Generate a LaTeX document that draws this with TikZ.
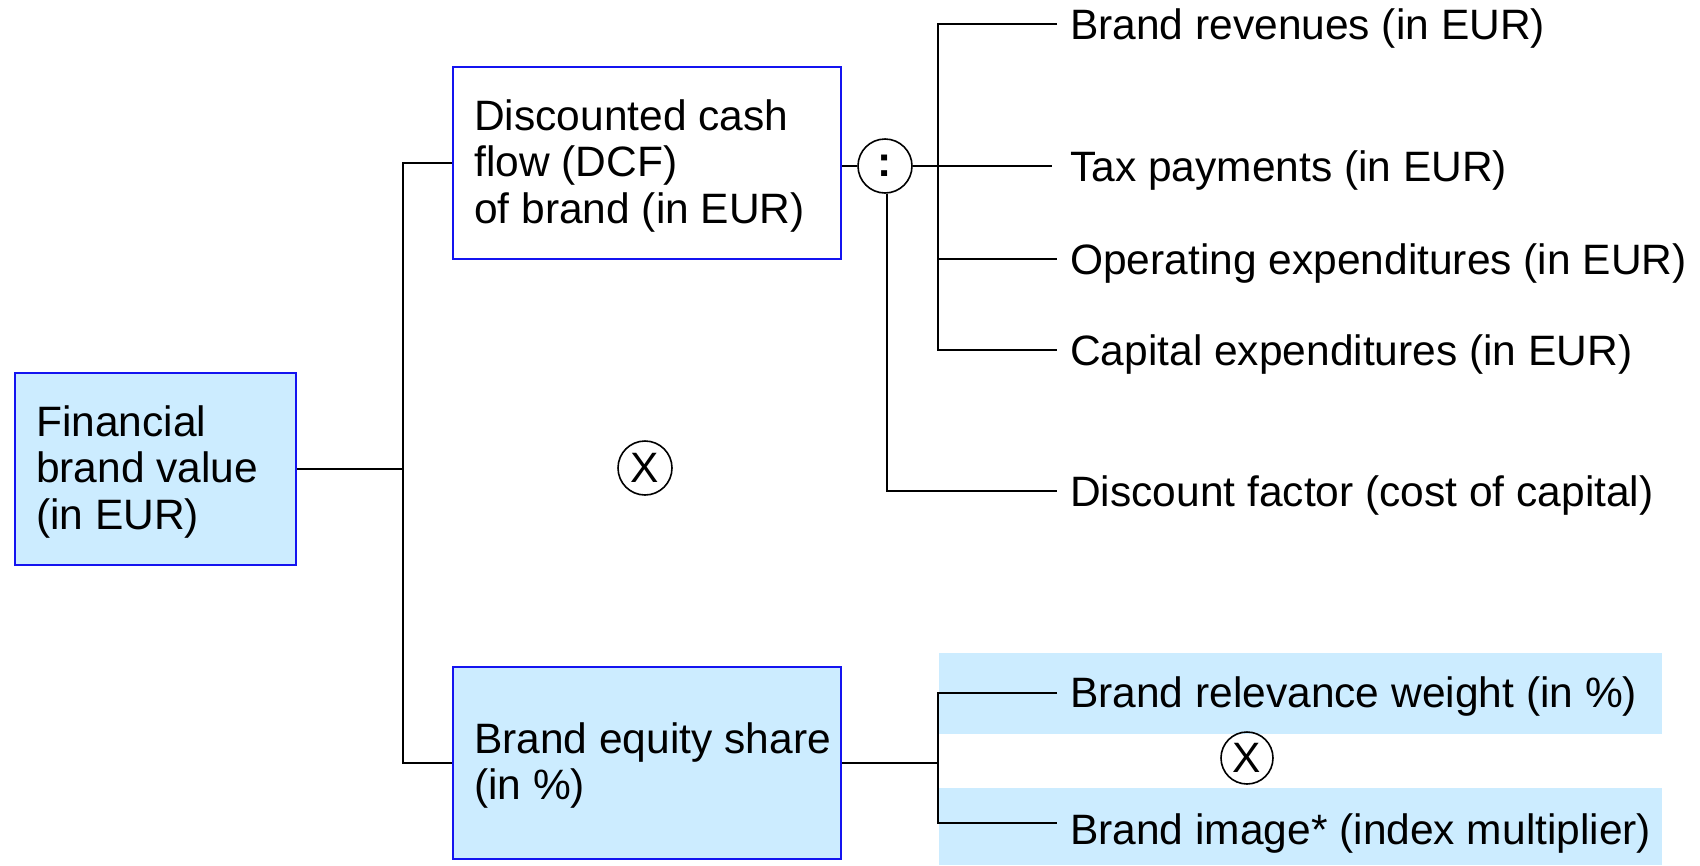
\documentclass[tikz,border=0pt]{standalone}
\usepackage{fontspec}
\setmainfont{Liberation Sans}
\definecolor{boxblue}{RGB}{20,20,240}
\definecolor{paleblue}{RGB}{204,236,255}
\begin{document}
\begin{tikzpicture}[x=1pt,y=-1pt,
  every node/.style={font=\fontsize{42.5}{46.5}\selectfont},
  box/.style={draw=boxblue, line width=2pt, inner sep=0pt, anchor=north west},
  boxtext/.style={align=left, inner sep=0pt, anchor=north west},
  conn/.style={draw=black, line width=2pt},
  leaf/.style={anchor=west, inner xsep=13pt, inner ysep=0pt,
               text height=30pt, text depth=0pt},
  op/.style={circle, draw=black, line width=1.6pt, inner sep=0pt, minimum size=54pt}]

\useasboundingbox (0,0) rectangle (1700,865);

% shaded bands behind the two share factors
\fill[paleblue] (939,653) rectangle (1662,734);
\fill[paleblue] (939,788) rectangle (1662,865);

% main boxes
\node[box, fill=paleblue, minimum width=281pt, minimum height=192pt] (fbv) at (14,372) {};
\node[box, fill=white, minimum width=388pt, minimum height=192pt] (dcf) at (452,66) {};
\node[box, fill=paleblue, minimum width=388pt, minimum height=192pt] (bes) at (452,666) {};

% box labels
\node[boxtext] (fbvText) at (36,405) {Financial\\brand value\\(in EUR)};
\node[boxtext] (dcfText) at (474,99) {Discounted cash\\flow (DCF)\\of brand (in EUR)};
\node[boxtext] (besText) at (474,722) {Brand equity share\\(in \%)};

% operators
\node[op] (mulA) at (645,468) {X};
\node[op] (div) at (885,166) {\textbf{:}};
\node[op, minimum size=52pt] (mulB) at (1247,758) {X};

% leaf labels
\node[leaf] (rev) at (1057,24) {Brand revenues (in EUR)};
\node[leaf] (tax) at (1057,166) {Tax payments (in EUR)};
\node[leaf] (opx) at (1057,259) {Operating expenditures (in EUR)};
\node[leaf] (cpx) at (1057,350) {Capital expenditures (in EUR)};
\node[leaf] (dsc) at (1057,491) {Discount factor (cost of capital)};
\node[leaf] (rel) at (1057,692) {Brand relevance weight (in \%)};
\node[leaf] (img) at (1057,829) {Brand image* (index multiplier)};

% junction points
\coordinate (trunk) at (403,0);
\coordinate (cfA) at (938,24);
\coordinate (cfB) at (938,350);
\coordinate (cfOp) at (938,259);
\coordinate (shA) at (938,693);
\coordinate (shB) at (938,823);
\coordinate (dfCorner) at (887,491);

% first level
\draw[conn] (fbv.east) -- (fbv.east -| trunk);
\draw[conn] (dcf.west) -- (dcf.west -| trunk) -- (bes.west -| trunk) -- (bes.west);

% cash-flow components
\draw[conn] (div.west -| dcf.east) -- (div.west);
\draw[conn] (div.east) -- ([xshift=-5pt]tax.west);
\draw[conn] (rev.west) -- (cfA) -- (cfB) -- (cpx.west);
\draw[conn] (cfOp) -- (opx.west);
\draw[conn] (div.south -| dfCorner) -- (dfCorner) -- (dsc.west);

% equity share components
\draw[conn] (bes.east) -- (bes.east -| shA);
\draw[conn] (shA -| rel.west) -- (shA) -- (shB) -- (shB -| img.west);

\end{tikzpicture}
\end{document}
